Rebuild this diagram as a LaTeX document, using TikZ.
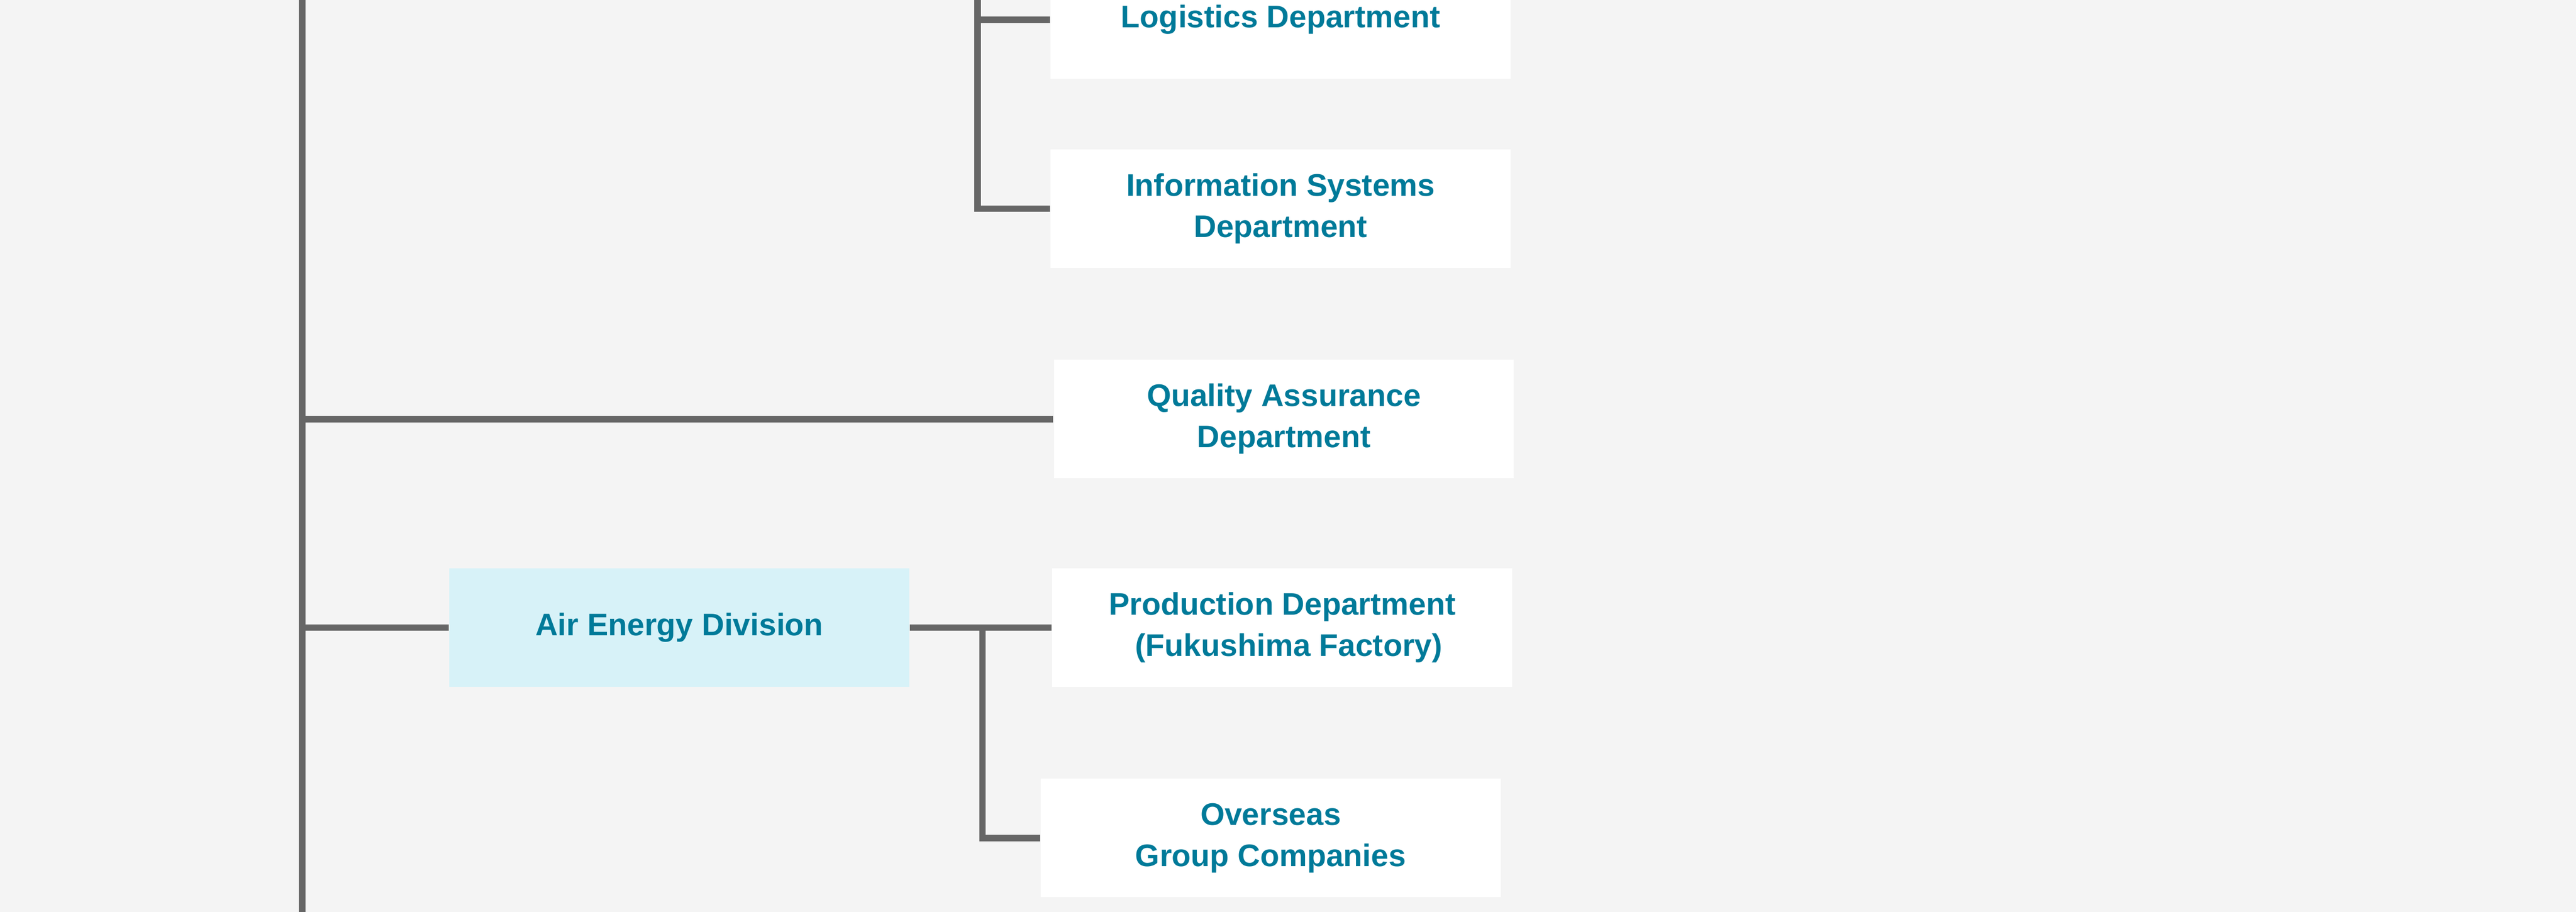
\documentclass[tikz,border=0pt]{standalone}
\usepackage{fontspec}
\setmainfont{Liberation Sans}
\definecolor{bg}{HTML}{F4F4F4}
\definecolor{txt}{HTML}{007A99}
\definecolor{ln}{HTML}{666666}
\definecolor{lb}{HTML}{D7F2F8}
\begin{document}
\begin{tikzpicture}[x=0.5pt,y=-0.5pt,
  box/.style={fill=white,draw=none,minimum width=140pt,minimum height=36pt,inner sep=0pt,align=center,text=txt,font=\bfseries\fontsize{9.5}{12.5}\selectfont},
  conn/.style={draw=ln,line width=2pt}]
\useasboundingbox[fill=bg] (0,0) rectangle (1568,555);
\begin{scope}
\clip (0,0) rectangle (1568,555);
\node[box] (log) at (779.5,12) {Logistics Department};
\node[box] (info) at (779.5,127) {Information Systems\\Department};
\node[box] (qa) at (781.5,255) {Quality Assurance\\Department};
\node[box,fill=lb] (air) at (413.5,382) {Air Energy Division};
\node[box] (prod) at (780.5,382) {Production Department\\\hspace*{4pt}(Fukushima Factory)};
\node[box] (ov) at (773.5,510) {Overseas\\Group Companies};
\coordinate (top) at (184,-5);
\coordinate (bot) at (184,560);
\draw[conn] (top) -- (bot);
\coordinate (bt) at (595,-5);
\draw[conn] (bt) |- (info.west);
\draw[conn] (595,12) -- (log.west);
\draw[conn] (184,255) -- (qa.west);
\draw[conn] (184,382) -- (air.west);
\draw[conn] (air.east) -- (prod.west);
\draw[conn] (598,382) |- (ov.west);
\end{scope}
\end{tikzpicture}
\end{document}
